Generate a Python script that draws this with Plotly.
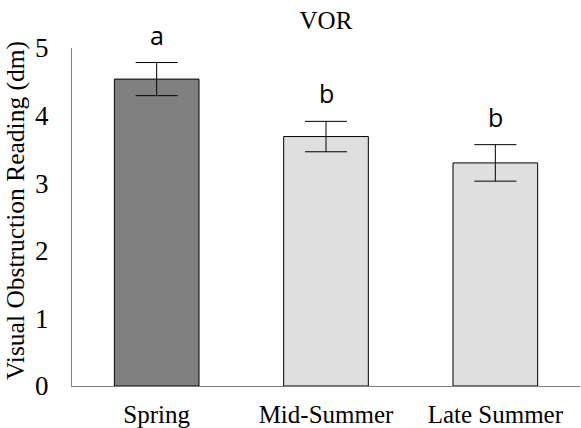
import plotly.graph_objects as go

seasons = ["Spring", "Mid-Summer", "Late Summer"]
vor_mean = [4.54, 3.69, 3.30]
vor_se = [0.245, 0.225, 0.27]
letters = ["a", "b", "b"]
bar_colors = ["#808080", "#dfdfdf", "#dfdfdf"]
y_ticks = [0, 1, 2, 3, 4, 5]

serif = "Liberation Serif, Times New Roman, serif"
sans = "Open Sans, Calibri, sans-serif"

fig = go.Figure(
    go.Bar(
        x=seasons,
        y=vor_mean,
        marker=dict(color=bar_colors, line=dict(color="#000000", width=1)),
        error_y=dict(type="data", array=vor_se, visible=True,
                     color="#000000", thickness=1, width=21),
    )
)

# significance letters above each error bar
for s, m, e, lab in zip(seasons, vor_mean, vor_se, letters):
    fig.add_annotation(x=s, y=m + e, text=lab, showarrow=False,
                       yanchor="bottom", yshift=9,
                       font=dict(family=sans, size=25, color="#000000"))

# vertical axis title
fig.add_annotation(xref="paper", yref="paper", x=-0.11, y=0.518,
                   text="Visual Obstruction Reading (dm)", textangle=-90,
                   showarrow=False, xanchor="center", yanchor="middle",
                   font=dict(family=serif, size=25.5, color="#000000"))

fig.update_layout(
    width=581, height=428,
    margin=dict(l=72, r=1, t=48, b=42),
    paper_bgcolor="white", plot_bgcolor="white",
    bargap=0.5,
    showlegend=False,
    title=dict(text="VOR", x=0.561, xanchor="center", y=0.952, yanchor="middle",
               font=dict(family=serif, size=25, color="#000000")),
    font=dict(family=serif, size=20, color="#000000"),
)
fig.update_xaxes(showline=True, linecolor="#808080", linewidth=1,
                 showgrid=False, ticks="", ticklabelstandoff=6,
                 tickfont=dict(family=serif, size=25))
fig.update_yaxes(range=[0, 5], tickvals=y_ticks, showline=True,
                 linecolor="#808080", linewidth=1, showgrid=False,
                 zeroline=False, ticks="", ticklabelstandoff=17,
                 tickfont=dict(family=serif, size=27))

fig.write_html("out.html")
